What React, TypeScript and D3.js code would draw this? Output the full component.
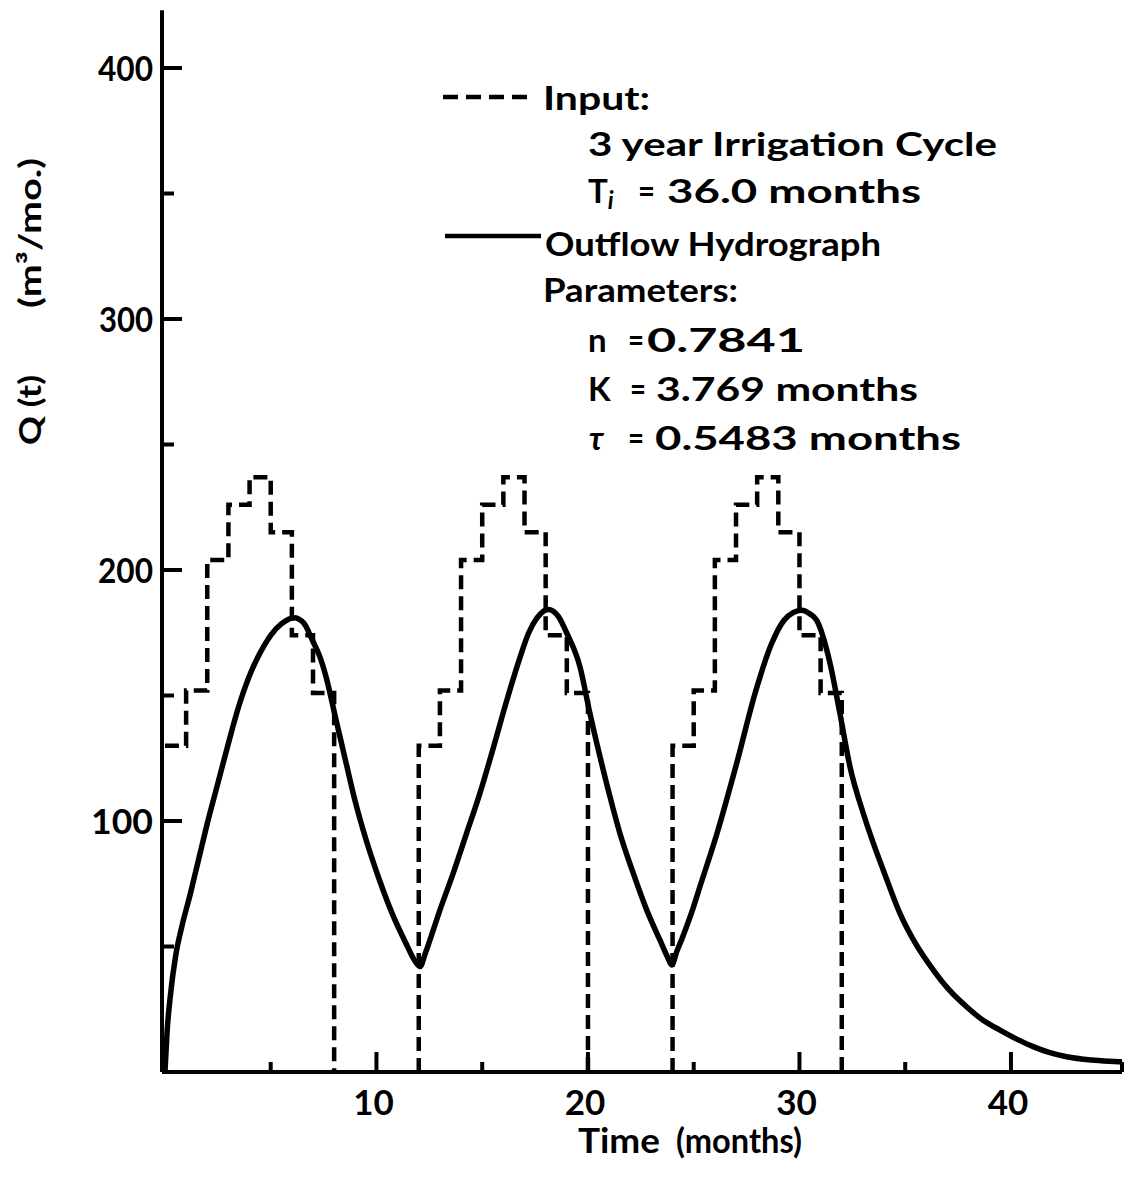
import React from 'react';
import * as d3 from 'd3';

// ---- data ----
const yMajorTicks = [100, 200, 300, 400];
const yMinorTicks = [50, 150, 250, 350];
const xMajorTicks = [10, 20, 30, 40];
const xMinorTicks = [5, 15, 25, 35];

// monthly irrigation input (3 cycles, 8 monthly steps each)
const inputStarts = [0, 12, 24];
const inputCycle1 = [130, 152, 204, 226, 237, 215, 174, 151];
const inputCycle2 = [130, 152, 204, 226, 237, 215, 174, 151];
const inputCycle3 = [130, 152, 204, 226, 237, 215, 174, 151];
const inputCycles = [inputCycle1, inputCycle2, inputCycle3];

// outflow hydrograph
const outflowT = [0, 0.1, 0.25, 0.5, 0.8, 1.2, 1.6, 2.0, 2.5, 3.0, 3.5, 4.0, 4.5, 5.0, 5.5, 6.1, 6.55, 6.97, 7.3, 7.6, 8.07, 8.54, 9.02, 9.49, 10.12, 10.75, 11.38, 11.8, 12.06,
  12.3, 12.53, 13.0, 13.63, 14.26, 14.89, 15.52, 16.16, 16.78, 17.2, 17.6, 18.12, 18.6, 18.99, 19.62, 20.09, 20.57, 21.04, 21.51, 22.14, 22.78, 23.4, 23.75, 23.96,
  24.2, 24.44, 24.92, 25.3, 26.1, 27.0, 27.94, 28.65, 29.27, 29.7, 30.1, 30.5, 30.81, 31.44, 31.91, 32.39, 33.02, 33.5, 33.96, 34.75, 35.5, 36.33, 37.1, 37.9, 38.7, 39.48, 40.3, 41.05, 41.8, 42.63, 43.8, 45.07, 45.25];
const outflowQ = [0, 16, 30, 46, 58, 71, 85, 99, 115, 131, 146, 158, 167, 174, 178.5, 181, 179, 172, 166, 158, 141, 124, 107, 93, 77, 63, 51.5, 44.5, 42,
  47, 52.6, 64.5, 79.2, 95.1, 111, 129, 148, 165, 175, 181, 184.3, 181.5, 175, 161.5, 143, 125.6, 109.7, 95.1, 79.2, 64.5, 52.6, 46, 42.6,
  48, 53, 64, 74, 95, 122, 152, 170, 180, 183, 184, 182.5, 180, 163, 143, 121.6, 103, 91, 80.5, 63.2, 51, 40.6, 32.5, 26, 20.5, 16.7, 13, 10.1, 7.8, 6.1, 4.8, 4.1, 4];

const xLabelA = 'Time';
const xLabelB = '(months)';
const yLabelA = 'Q (t)';
const yLabelB = '(m³/mo.)';

const FONT = "Lato, 'DejaVu Sans', sans-serif";

export default function App() {
  const x = d3.scaleLinear().domain([-0.14, 45.25]).range([162, 1122]);
  const y = d3.scaleLinear().domain([0, 400]).range([1072, 68]);

  const stepLine = d3.line<[number, number]>().x(d => x(d[0])).y(d => y(d[1]));
  const inputPaths = inputCycles.map((vals, ci) => {
    const s = inputStarts[ci];
    const pts: [number, number][] = [];
    if (s > 0) pts.push([s, 0]);
    vals.forEach((v, i) => { pts.push([s + i, v]); pts.push([s + i + 1, v]); });
    pts.push([s + vals.length, 0]);
    return stepLine(pts) as string;
  });

  const outPts: [number, number][] = outflowT.map((t, i) => [t, outflowQ[i]]);
  const outPath = d3.line<[number, number]>().x(d => x(d[0])).y(d => y(d[1])).curve(d3.curveMonotoneX)(outPts) as string;
  const lastT = outflowT[outflowT.length - 1];
  const lastQ = outflowQ[outflowQ.length - 1];

  const x0 = x.range()[0];
  const x1 = x.range()[1];
  const yBase = y(0);
  const yTop = y(423);

  const tickLabelW: Record<number, number> = { 100: 62, 200: 55, 300: 54, 400: 55 };

  return (
    <svg width={1130} height={1186} style={{ position: 'absolute', left: 0, top: 0, background: '#fff' }}
      fontFamily={FONT} fontWeight={700}>
      <rect x={0} y={0} width={1130} height={1186} fill="#fff" />
      {/* axes */}
      <line x1={x0} y1={yBase} x2={x0} y2={yTop} stroke="#000" strokeWidth={4} />
      <line x1={x0} y1={yBase} x2={x1} y2={yBase} stroke="#000" strokeWidth={4} />
      {yMajorTicks.map(v => (
        <g key={'ym' + v}>
          <line x1={x0} x2={x0 + 20} y1={y(v)} y2={y(v)} stroke="#000" strokeWidth={4} />
          <text x={153} y={y(v) + 13} textAnchor="end" fontSize={35} textLength={tickLabelW[v]} lengthAdjust="spacingAndGlyphs">{v}</text>
        </g>
      ))}
      {yMinorTicks.map(v => (
        <line key={'yn' + v} x1={x0} x2={x0 + 12} y1={y(v)} y2={y(v)} stroke="#000" strokeWidth={4} />
      ))}
      {xMajorTicks.map(v => (
        <g key={'xm' + v}>
          <line x1={x(v)} x2={x(v)} y1={yBase} y2={yBase - 20} stroke="#000" strokeWidth={4} />
          <text x={x(v) - 3} y={1115} textAnchor="middle" fontSize={35}>{v}</text>
        </g>
      ))}
      {xMinorTicks.map(v => (
        <line key={'xn' + v} x1={x(v)} x2={x(v)} y1={yBase} y2={yBase - 10} stroke="#000" strokeWidth={4} />
      ))}

      {/* input (dashed) */}
      {inputPaths.map((d, i) => (
        <path key={'in' + i} d={d} fill="none" stroke="#000" strokeWidth={4.5} strokeDasharray="14 7" strokeLinejoin="miter" />
      ))}
      {/* outflow */}
      <path d={outPath} fill="none" stroke="#000" strokeWidth={5.5} strokeLinejoin="round" />
      <line x1={x(lastT)} x2={x(lastT)} y1={y(lastQ)} y2={yBase} stroke="#000" strokeWidth={4} />

      {/* axis titles */}
      <text x={578} y={1153} fontSize={34} textLength={82} lengthAdjust="spacingAndGlyphs">{xLabelA}</text>
      <text x={676} y={1153} fontSize={34} textLength={126} lengthAdjust="spacingAndGlyphs">{xLabelB}</text>
      <text transform="translate(41,410) rotate(-90)" textAnchor="middle" fontSize={30} textLength={70} lengthAdjust="spacingAndGlyphs">{yLabelA}</text>
      <text transform="translate(41,233) rotate(-90)" textAnchor="middle" fontSize={30} textLength={150} lengthAdjust="spacingAndGlyphs">{yLabelB}</text>

      {/* legend */}
      <line x1={443} x2={532} y1={97} y2={97} stroke="#000" strokeWidth={4.5} strokeDasharray="15 8" />
      <text x={543} y={110} fontSize={33} textLength={107} lengthAdjust="spacingAndGlyphs">Input:</text>
      <text x={588} y={156} fontSize={33} textLength={409} lengthAdjust="spacingAndGlyphs">3 year Irrigation Cycle</text>
      <text x={588} y={203} fontSize={33}>T<tspan fontStyle="italic" fontSize={24} dy={6}>i</tspan></text>
      <text x={638} y={203} fontSize={33} textLength={17} lengthAdjust="spacingAndGlyphs">=</text>
      <text x={667} y={203} fontSize={33} textLength={254} lengthAdjust="spacingAndGlyphs">36.0 months</text>
      <line x1={445} x2={541} y1={236} y2={236} stroke="#000" strokeWidth={4.5} />
      <text x={545} y={256} fontSize={33} textLength={336} lengthAdjust="spacingAndGlyphs">Outflow Hydrograph</text>
      <text x={543} y={302} fontSize={33} textLength={195} lengthAdjust="spacingAndGlyphs">Parameters:</text>
      <text x={588} y={352} fontSize={33}>n</text>
      <text x={628} y={352} fontSize={33} textLength={16} lengthAdjust="spacingAndGlyphs">=</text>
      <text x={647} y={352} fontSize={33} textLength={158} lengthAdjust="spacingAndGlyphs">0.7841</text>
      <text x={588} y={401} fontSize={33}>K</text>
      <text x={630} y={401} fontSize={33} textLength={16} lengthAdjust="spacingAndGlyphs">=</text>
      <text x={656} y={401} fontSize={33} textLength={262} lengthAdjust="spacingAndGlyphs">3.769 months</text>
      <text x={589} y={450} fontSize={33} fontStyle="italic">τ</text>
      <text x={628} y={450} fontSize={33} textLength={16} lengthAdjust="spacingAndGlyphs">=</text>
      <text x={655} y={450} fontSize={33} textLength={306} lengthAdjust="spacingAndGlyphs">0.5483 months</text>
    </svg>
  );
}
